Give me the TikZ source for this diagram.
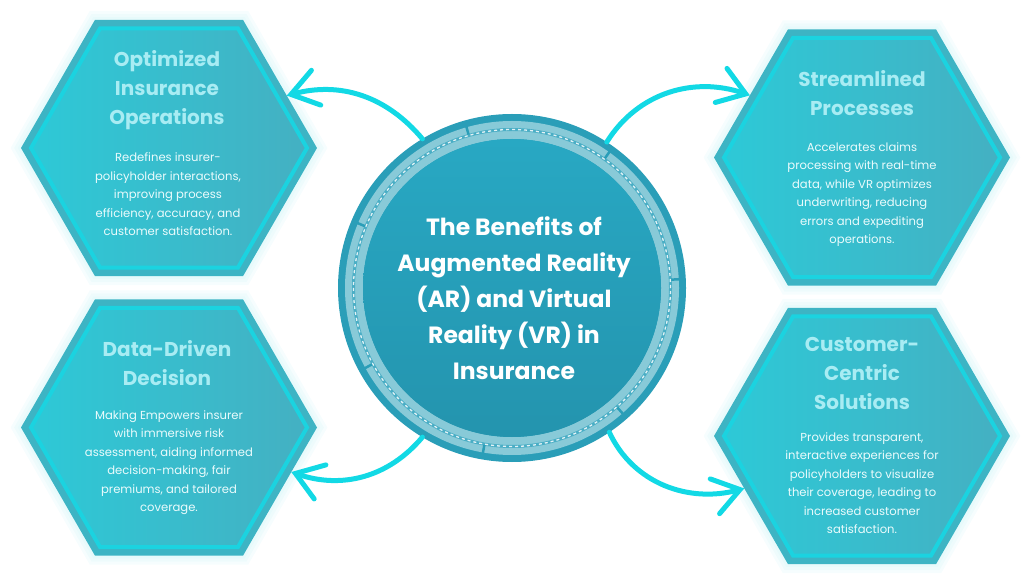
\documentclass[tikz,border=0pt]{standalone}
\usepackage{fontspec}
\setmainfont{Poppins}
\usetikzlibrary{shapes.geometric,arrows.meta,calc}
\definecolor{arrowc}{HTML}{12D9E5}
\definecolor{hexband}{HTML}{3DB4C4}
\definecolor{hexline}{HTML}{1BD3E0}
\definecolor{hexleft}{HTML}{2DC9D7}
\definecolor{hexright}{HTML}{44B0C2}
\definecolor{glowc}{HTML}{A9ECF2}
\definecolor{titlec}{HTML}{A8ECF3}
\definecolor{bodyc}{HTML}{EAFBFC}
\definecolor{rimc}{HTML}{2A9EB8}
\definecolor{bandc}{HTML}{88CAD8}
\definecolor{sepc}{HTML}{4AAEC5}
\definecolor{innertop}{HTML}{28A8C3}
\definecolor{innerbot}{HTML}{2494AE}
\tikzset{
  hexglow/.style={regular polygon, regular polygon sides=6, minimum size=296pt, inner sep=0pt, outer sep=0pt, draw=glowc, line width=#1, draw opacity=0.1},
  hexo/.style={regular polygon, regular polygon sides=6, minimum size=296pt, inner sep=0pt, outer sep=0pt, fill=hexband},
  hexi/.style={regular polygon, regular polygon sides=6, minimum size=276pt, inner sep=0pt, outer sep=0pt, draw=hexline, line width=4pt, left color=hexleft, right color=hexright},
  htitle/.style={align=center, text=titlec, font=\fontsize{20}{29}\selectfont\bfseries, inner sep=0pt},
  hbody/.style={align=center, text=bodyc, font=\fontsize{11.6}{18.5}\selectfont, inner sep=0pt},
  arr/.style={draw=arrowc, line width=5pt, line cap=round, -{Straight Barb[length=26pt,width=36pt,line cap=round]}},
}
\begin{document}
\begin{tikzpicture}[x=1pt,y=1pt]
\useasboundingbox (0,0) rectangle (1024,576);

% glows
\foreach \n/\p in {a/{(169,428)},b/{(862,418.5)},c/{(169,148.5)},d/{(862,140)}}{
  \node[hexglow=18pt] (g1\n) at \p {};
  \node[hexglow=12pt] (g2\n) at \p {};
  \node[hexglow=6pt] (g3\n) at \p {};
}

% hexagons
\node[hexo] (tl) at (169,428) {};
\node[hexi] (tli) at (tl.center) {};
\node[hexo] (tr) at (862,418.5) {};
\node[hexi] (tri) at (tr.center) {};
\node[hexo] (bl) at (169,148.5) {};
\node[hexi] (bli) at (bl.center) {};
\node[hexo] (br) at (862,140) {};
\node[hexi] (bri) at (br.center) {};

% hexagon texts
\node[htitle] (tlt) at (167,486) {Optimized\\Insurance\\Operations};
\node[hbody] (tlb) at (168,381.5) {Redefines insurer-\\policyholder interactions,\\improving process\\efficiency, accuracy, and\\customer satisfaction.};
\node[htitle] (trt) at (862,483) {Streamlined\\Processes};
\node[hbody] (trb) at (862,381.5) {Accelerates claims\\processing with real-time\\data, while VR optimizes\\underwriting, reducing\\errors and expediting\\operations.};
\node[htitle] (blt) at (167,212.5) {Data-Driven\\Decision};
\node[hbody] (blb) at (169,113.5) {Making Empowers insurer\\with immersive risk\\assessment, aiding informed\\decision-making, fair\\premiums, and tailored\\coverage.};
\node[htitle] (brt) at (862,203) {Customer-\\Centric\\Solutions};
\node[hbody] (brb) at (862,93) {Provides transparent,\\interactive experiences for\\policyholders to visualize\\their coverage, leading to\\increased customer\\satisfaction.};

% central circle
\node[circle, minimum size=348pt, inner sep=0pt, outer sep=0pt, fill=rimc] (c) at (512,288) {};
\draw[bandc, line width=18pt] (c.center) circle[radius=158pt];
\draw[sepc, line width=3pt] (c.center) circle[radius=158.5pt];
\draw[white, line width=1.3pt, dash pattern=on 3pt off 3pt, opacity=0.85] (c.center) circle[radius=158.5pt];
\foreach \a in {3,54.4,105.8,157.2,208.6,260,311.4}{
  \draw[rimc, line width=2.5pt] ($(c.center)+(\a:159.5pt)$) -- ($(c.center)+(\a:168pt)$);
}
\shade[top color=innertop, bottom color=innerbot] (c.center) circle[radius=149pt];
\node[align=center, text=white, font=\fontsize{23.5}{36}\selectfont\bfseries, inner sep=0pt] (ct) at (514,277.5) {The Benefits of\\Augmented Reality\\(AR) and Virtual\\Reality (VR) in\\Insurance};

% arrows
\draw[arr] (c.121) to[out=130,in=15] (tl.24);
\draw[arr] (c.57) to[out=58,in=161] (tr.151.5);
\draw[arr] (c.239) to[out=230,in=-19] (bl.-20);
\draw[arr] (c.-56) to[out=-65,in=195] (br.204);
\end{tikzpicture}
\end{document}
